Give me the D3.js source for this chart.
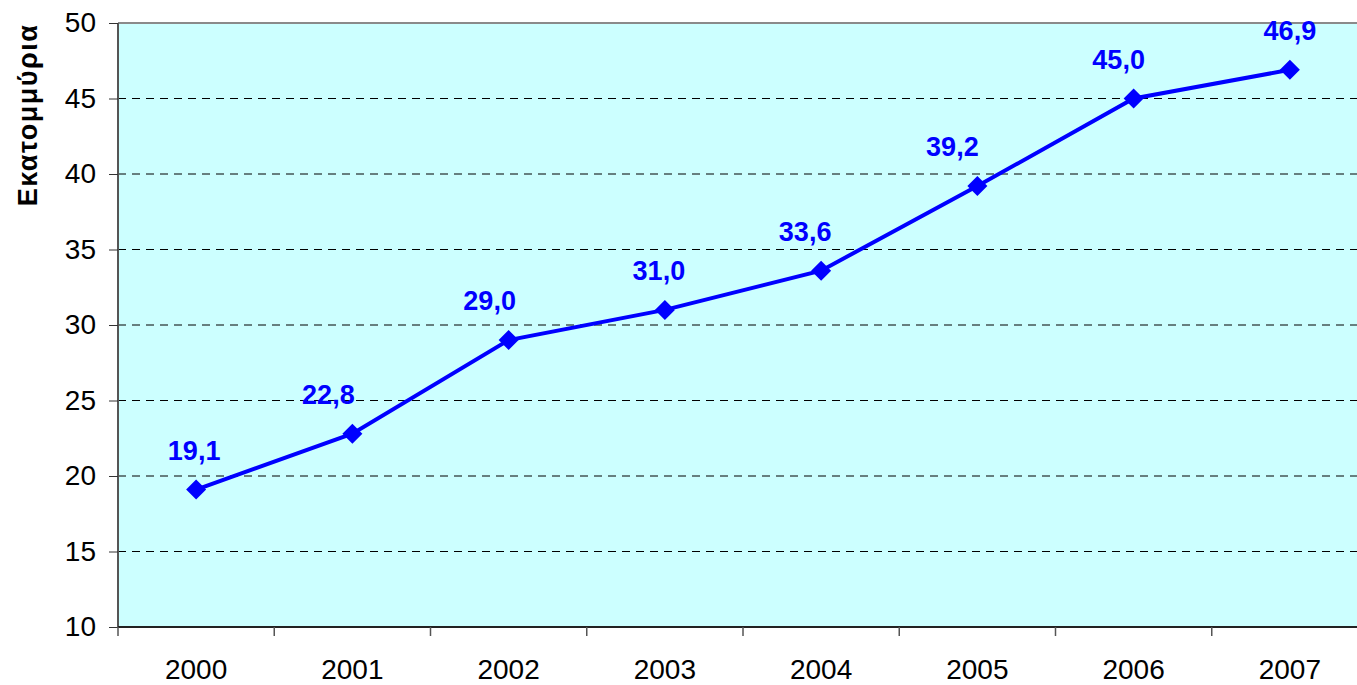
<!DOCTYPE html>
<html>
<head>
<meta charset="utf-8">
<script src="https://cdn.jsdelivr.net/npm/d3@7"></script>
<style>
  body { margin: 0; background: #fff; }
  svg { display: block; font-family: "Liberation Sans", Arial, sans-serif; }
</style>
</head>
<body>
<div id="chart"></div>
<script>
const years = ["2000", "2001", "2002", "2003", "2004", "2005", "2006", "2007"];
const values = [19.1, 22.8, 29.0, 31.0, 33.6, 39.2, 45.0, 46.9];
const yTicks = [10, 15, 20, 25, 30, 35, 40, 45, 50];
const yTitle = "Εκατομμύρια";
// labels were nudged by hand in the original
const labelDx = [-2, -24, -19, -6, -16, -25, -15, 0];

const width = 1357, height = 685;
const margin = { top: 23, right: -11, bottom: 58, left: 118 };

const svg = d3.select("#chart").append("svg")
  .attr("width", width)
  .attr("height", height);

const x = d3.scaleBand()
  .domain(years)
  .range([margin.left, width - margin.right]);

const y = d3.scaleLinear()
  .domain([10, 50])
  .range([height - margin.bottom, margin.top]);

const fmt = v => d3.format(".1f")(v).replace(".", ",");

// plot background
svg.append("rect")
  .attr("x", margin.left)
  .attr("y", margin.top)
  .attr("width", x.range()[1] - margin.left)
  .attr("height", y(10) - y(50))
  .attr("fill", "#ccffff");

// dashed grid
svg.append("g")
  .selectAll("line")
  .data(yTicks.filter(t => t > 10 && t < 50))
  .join("line")
    .attr("x1", margin.left)
    .attr("x2", x.range()[1])
    .attr("y1", d => y(d))
    .attr("y2", d => y(d))
    .attr("stroke", "#000")
    .attr("stroke-width", 1)
    .attr("stroke-dasharray", "8,6");

// top border
svg.append("line")
  .attr("x1", margin.left).attr("x2", x.range()[1])
  .attr("y1", y(50)).attr("y2", y(50))
  .attr("stroke", "#8a8a8a").attr("stroke-width", 2);

// y axis
svg.append("g")
  .attr("transform", `translate(${margin.left},0)`)
  .call(d3.axisLeft(y).tickValues(yTicks).tickSize(9).tickPadding(13))
  .call(g => g.selectAll("text").attr("font-size", 28).attr("fill", "#000")
    .attr("font-family", "Liberation Sans, Arial, sans-serif"))
  .call(g => g.selectAll("line").attr("stroke", "#333"))
  .call(g => g.select(".domain").attr("stroke", "#555").attr("stroke-width", 2)
    .attr("d", `M0,${y(50)}V${y(10)}`));

// x axis
const xAxis = svg.append("g")
  .attr("transform", `translate(0,${y(10)})`);
xAxis.append("line")
  .attr("x1", margin.left).attr("x2", x.range()[1])
  .attr("stroke", "#222").attr("stroke-width", 2);
xAxis.selectAll(".tick")
  .data(years)
  .join("line")
    .attr("x1", d => x(d)).attr("x2", d => x(d))
    .attr("y1", 0).attr("y2", 9)
    .attr("stroke", "#555").attr("stroke-width", 1.5);
xAxis.selectAll("text")
  .data(years)
  .join("text")
    .attr("x", d => x(d) + x.bandwidth() / 2)
    .attr("y", 52)
    .attr("text-anchor", "middle")
    .attr("font-size", 28)
    .attr("fill", "#000")
    .text(d => d);

// y title
svg.append("text")
  .attr("transform", "translate(37,115) rotate(-90)")
  .attr("text-anchor", "middle")
  .attr("font-size", 27)
  .attr("letter-spacing", 1.5)
  .attr("font-weight", "bold")
  .attr("fill", "#000")
  .text(yTitle);

const pts = years.map((yr, i) => ({ yr, v: values[i], i }));
const cx = d => x(d.yr) + x.bandwidth() / 2;

svg.append("path")
  .datum(pts)
  .attr("fill", "none")
  .attr("stroke", "#0000ff")
  .attr("stroke-width", 4)
  .attr("d", d3.line().x(cx).y(d => y(d.v)));

svg.append("g")
  .selectAll("path")
  .data(pts)
  .join("path")
    .attr("transform", d => `translate(${cx(d)},${y(d.v)})`)
    .attr("d", "M0,-10L10,0L0,10L-10,0Z")
    .attr("fill", "#0000ff");

svg.append("g")
  .selectAll("text")
  .data(pts)
  .join("text")
    .attr("x", d => cx(d) + labelDx[d.i])
    .attr("y", d => y(d.v) - 30)
    .attr("text-anchor", "middle")
    .attr("font-size", 27)
    .attr("font-weight", "bold")
    .attr("fill", "#0000ff")
    .text(d => fmt(d.v));
</script>
</body>
</html>
